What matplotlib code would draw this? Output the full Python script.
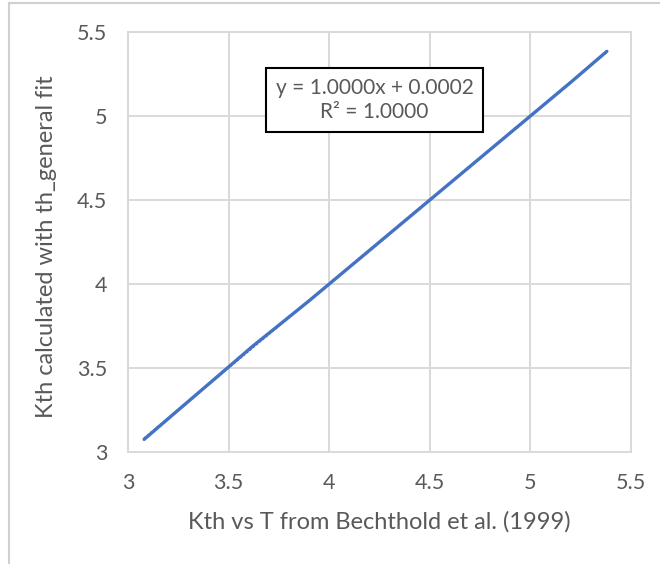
import numpy as np
import matplotlib.pyplot as plt
from matplotlib.patches import Rectangle

# data
kth_ref = [3.08, 3.25, 3.45, 3.62, 3.75, 3.9, 4.1, 4.3, 4.5, 4.7, 4.9, 5.05, 5.2, 5.38]
kth_fit = [3.075, 3.25, 3.455, 3.63, 3.755, 3.9, 4.1, 4.3, 4.5, 4.7, 4.9, 5.05, 5.2, 5.385]
xticks = [3, 3.5, 4, 4.5, 5, 5.5]
yticks = [3, 3.5, 4, 4.5, 5, 5.5]
xlabel = 'Kth vs T from Bechthold et al. (1999)'
ylabel = 'Kth calculated with th_general fit'
eq_text = 'y = 1.0000x + 0.0002\nR² = 1.0000'

plt.rcParams['font.family'] = ['Lato', 'DejaVu Sans']
txt_col = '#595959'
grid_col = '#d9d9d9'
blue = '#4472C4'

fig = plt.figure(figsize=(6.6, 5.64), dpi=100)
# outer chart border (light gray, only top/left visible)
fig.add_artist(plt.Line2D([9/660, 1], [1 - 3/564, 1 - 3/564], color='#d0d0d0', lw=1.5))
fig.add_artist(plt.Line2D([9/660, 9/660], [0, 1 - 3/564], color='#d0d0d0', lw=1.5))

ax = fig.add_axes([128/660, 1 - 452/564, (631-128)/660, (452-32)/564])

ax.plot(kth_ref, kth_fit, color=blue, lw=2.4, solid_capstyle='round', zorder=3)
# linear trendline, dotted
a, b = np.polyfit(kth_ref, kth_fit, 1)
tx = np.array([min(kth_ref), max(kth_ref)])
ax.plot(tx, a*tx + b, color=blue, lw=1.5, ls=(0, (1, 1)), zorder=2)

ax.set_xlim(3, 5.5)
ax.set_ylim(3, 5.5)
ax.set_xticks(xticks)
ax.set_yticks(yticks)
ax.set_xticklabels([f'{t:g}' for t in xticks])
ax.set_yticklabels([f'{t:g}' for t in yticks])
ax.tick_params(length=0, labelsize=15.5, labelcolor=txt_col)
ax.tick_params(axis='x', pad=15)
ax.tick_params(axis='y', pad=15)
ax.grid(True, color=grid_col, lw=1.4)
ax.set_axisbelow(True)
for s in ax.spines.values():
    s.set_color(grid_col)
    s.set_linewidth(1.4)

ax.set_xlabel(xlabel, fontsize=17, color=txt_col, va='center')
ax.xaxis.set_label_coords(0.5, (452 - 522) / 420)
ax.set_ylabel(ylabel, fontsize=17, color=txt_col, va='center')
ax.yaxis.set_label_coords((47 - 128) / 503, (452 - 247) / 420)

# equation box
ax.add_patch(Rectangle((3.686, 4.905), 4.764 - 3.686, 5.286 - 4.905,
                       facecolor='white', edgecolor='black', lw=1.5, zorder=4))
ax.text((3.686 + 4.764)/2, (4.905 + 5.286)/2, eq_text, ha='center', va='center',
        fontsize=15, color=txt_col, linespacing=1.25, zorder=5)

fig.savefig('out.png', dpi=100)
